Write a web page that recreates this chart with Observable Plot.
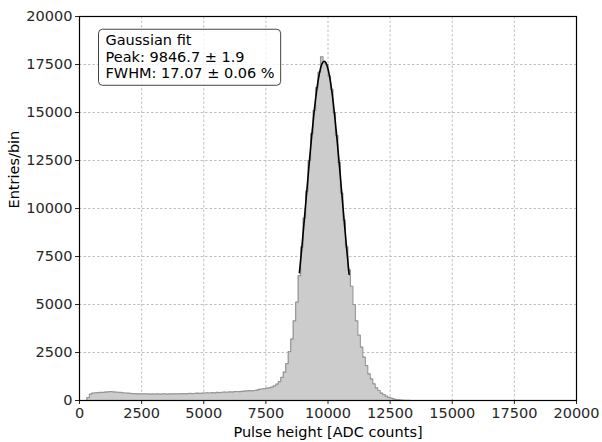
<!DOCTYPE html>
<html>
<head>
<meta charset="utf-8">
<script src="https://cdn.jsdelivr.net/npm/d3@7"></script>
<script src="https://cdn.jsdelivr.net/npm/@observablehq/plot@0.6"></script>
<style>
  html, body { margin: 0; padding: 0; background: white; }
  #chart { width: 602px; height: 442px; }
</style>
</head>
<body>
<div id="chart"></div>
<script>
// Histogram: bin width and counts per bin (bins start at 0)
const binWidth = 100;
const counts = [
  0, 0, 0, 150, 330, 390, 400, 410, 420, 420,
  440, 450, 460, 450, 440, 430, 420, 400, 390, 380,
  370, 360, 360, 350, 350, 340, 350, 340, 330, 340,
  330, 340, 330, 340, 340, 330, 340, 350, 340, 350,
  350, 360, 350, 360, 370, 360, 370, 380, 370, 380,
  390, 400, 390, 410, 400, 420, 410, 430, 440, 430,
  450, 440, 460, 470, 460, 480, 490, 500, 510, 500,
  520, 540, 580, 600, 620, 640, 660, 700, 760, 850,
  980, 1200, 1480, 1920, 2550, 3200, 4150, 5120, 6500, 8000,
  9500, 10900, 12500, 13900, 15100, 16300, 17100, 17900, 17600, 17500,
  16900, 16200, 15000, 13800, 12400, 10800, 9400, 8000, 6800, 5950,
  5000, 4150, 3400, 2780, 2260, 1820, 1390, 1130, 870, 660,
  520, 380, 310, 225, 160, 120, 80, 50, 30, 18,
  10, 5, 2, 0
];

// Gaussian fit curve
const fitX = [8850, 8950, 9050, 9150, 9250, 9350, 9450, 9550, 9650, 9750, 9850,
              9950, 10050, 10150, 10250, 10350, 10450, 10550, 10650, 10750, 10850];
const fitY = [6660, 8010, 9460, 10960, 12450, 13860, 15130, 16200, 17010, 17510, 17670,
              17490, 16970, 16150, 15060, 13780, 12360, 10870, 9370, 7920, 6570];

const xTicks = [0, 2500, 5000, 7500, 10000, 12500, 15000, 17500, 20000];
const yTicks = [0, 2500, 5000, 7500, 10000, 12500, 15000, 17500, 20000];

const fitLines = ["Gaussian fit", "Peak: 9846.7 ± 1.9", "FWHM: 17.07 ± 0.06 %"];
const xLabel = "Pulse height [ADC counts]";
const yLabel = "Entries/bin";

const hist = counts.map((c, i) => ({x: i * binWidth, y: c}));
hist.push({x: counts.length * binWidth, y: 0});
const fit = fitX.map((x, i) => ({x, y: fitY[i]}));

const font = "DejaVu Sans, Liberation Sans, sans-serif";
const fs = 14.5;

const chart = Plot.plot({
  width: 602,
  height: 442,
  marginLeft: 79,
  marginRight: 26,
  marginTop: 16,
  marginBottom: 42,
  style: {fontFamily: font, fontSize: fs + "px", background: "white", color: "#262626"},
  x: {domain: [0, 20000], label: null},
  y: {domain: [0, 20000], label: null},
  marks: [
    Plot.gridX(xTicks, {stroke: "#b0b0b0", strokeOpacity: 1, strokeWidth: 0.8, strokeDasharray: "2.5,2"}),
    Plot.gridY(yTicks, {stroke: "#b0b0b0", strokeOpacity: 1, strokeWidth: 0.8, strokeDasharray: "2.5,2"}),
    Plot.areaY(hist, {x: "x", y: "y", curve: "step-after", fill: "#cccccc"}),
    Plot.lineY(hist, {x: "x", y: "y", curve: "step-after", stroke: "#969696", strokeWidth: 1.2}),
    Plot.line(fit, {x: "x", y: "y", curve: "natural", stroke: "black", strokeWidth: 1.6}),
    Plot.axisX(xTicks, {tickSize: 4, tickPadding: 3, tickFormat: d3.format("d"), label: null, fontSize: fs}),
    Plot.axisY(yTicks, {tickSize: 4, tickPadding: 3, tickFormat: d3.format("d"), label: null, fontSize: fs}),
    Plot.frame({stroke: "black", strokeWidth: 1.2}),
    Plot.text([fitLines.join("\n")], {
      frameAnchor: "top-left", dx: 26, dy: 17, lineAnchor: "top", textAnchor: "start",
      fontSize: fs, lineHeight: 1.14, fill: "black", className: "fitbox"
    }),
    Plot.text([xLabel], {frameAnchor: "bottom", dy: 32, lineAnchor: "middle", fontSize: fs, fill: "black"}),
    Plot.text([yLabel], {frameAnchor: "left", dx: -65, rotate: -90, lineAnchor: "middle", fontSize: fs, fill: "black"})
  ]
});

document.getElementById("chart").appendChild(chart);

// rounded box around the fit annotation
const t = chart.querySelector("g.fitbox text") || chart.querySelector(".fitbox text");
if (t) {
  const bb = t.getBBox();
  const rect = document.createElementNS("http://www.w3.org/2000/svg", "rect");
  rect.setAttribute("x", bb.x - 7);
  rect.setAttribute("y", bb.y - 3);
  rect.setAttribute("width", bb.width + 13);
  rect.setAttribute("height", bb.height + 7);
  rect.setAttribute("rx", 4);
  rect.setAttribute("fill", "white");
  rect.setAttribute("fill-opacity", 0.8);
  rect.setAttribute("stroke", "#444");
  rect.setAttribute("stroke-width", 1);
  const tr = t.getAttribute("transform");
  if (tr) rect.setAttribute("transform", tr);
  t.parentNode.insertBefore(rect, t);
}
</script>
</body>
</html>
